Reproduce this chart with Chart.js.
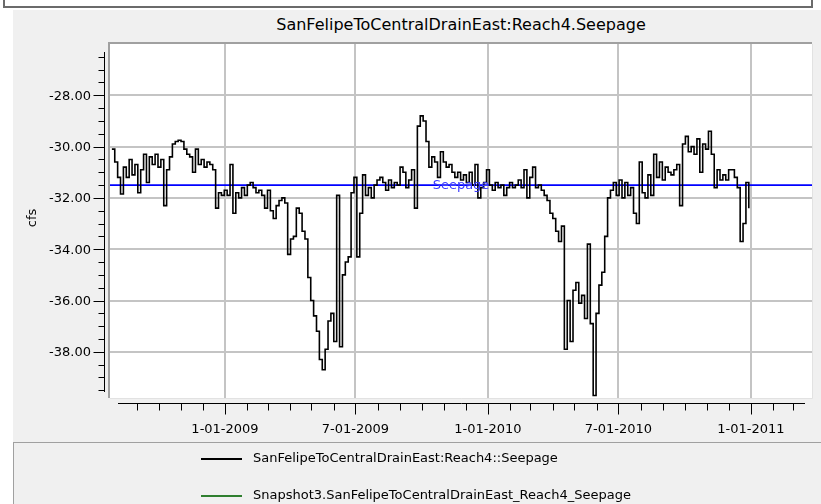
<!DOCTYPE html>
<html>
<head>
<meta charset="utf-8">
<title>SanFelipeToCentralDrainEast:Reach4.Seepage</title>
<script src="https://cdn.jsdelivr.net/npm/chart.js@4.4.1/dist/chart.umd.min.js"></script>
<style>
  html, body { margin: 0; padding: 0; background: #fff; }
  body { width: 821px; height: 504px; position: relative; overflow: hidden; font-family: "DejaVu Sans", sans-serif; }
  #frame { position: absolute; left: 3px; top: -10px; width: 806px; height: 14px; border: 2px solid #6b6b6b; background: #fff; }
  #panel { position: absolute; left: 13px; top: 10px; right: 0; bottom: 0; background: #f0f0f0; }
  #title { position: absolute; left: 110px; width: 702px; top: 15px; text-align: center; font-size: 16px; line-height: 20px; color: #000; }
  #chart { position: absolute; left: 0; top: 0; }
  #legend { position: absolute; left: 13px; top: 442px; width: 808px; height: 62px; border-top: 1px solid #a0a0a0; border-left: 1px solid #a0a0a0; }
  .item { position: absolute; left: 187px; height: 16px; font-size: 13px; line-height: 16px; white-space: nowrap; color: #000; }
  .swatch { display: inline-block; width: 41px; height: 0; border-top: 2px solid; vertical-align: middle; margin-right: 11px; }
</style>
</head>
<body>
<div id="frame"></div>
<div id="panel"></div>
<div id="title">SanFelipeToCentralDrainEast:Reach4.Seepage</div>
<canvas id="chart" width="821" height="504"></canvas>
<div id="legend"></div>
<script>
// series labels
const seriesLabels = [
  'SanFelipeToCentralDrainEast:Reach4::Seepage',
  'Snapshot3.SanFelipeToCentralDrainEast_Reach4_Seepage'
];
const seriesColors = ['#000000', '#2f7f2f'];

// reach seepage (cfs), one reading every 4 days starting 2008-07-28
const seriesStart = '2008-07-28';
const stepDays = 4;
const seepageValues = [
  -30.1, -30.6, -31.2, -31.85, -30.8, -31.2, -30.5, -31.1, -30.7, -31.8, -30.9,
  -30.3, -31.4, -30.4, -30.7, -30.3, -30.8, -30.5, -32.3, -30.9,
  -30.4, -29.9, -29.8, -29.75, -29.8, -30.1,
  -30.3, -30.4, -31.0, -30.1, -30.7, -30.5, -30.8, -30.6, -30.7, -30.9,
  -32.4, -31.8, -31.9, -31.7, -31.9, -30.7, -32.6, -31.8, -32.0, -31.6, -31.9, -31.5, -31.4, -31.6, -31.8, -31.7, -31.9, -32.4,
  -31.7, -32.5, -32.8, -32.3, -32.1, -32.0, -32.2, -34.2, -33.6, -33.5, -32.4, -32.6, -33.3, -33.6,
  -35.1, -36.0, -36.6, -37.2, -38.3, -38.7, -37.9, -36.8,
  -36.5, -37.6, -31.9, -37.8, -35.0, -34.5, -34.3, -31.8, -31.2, -34.3,
  -32.6, -31.1, -31.9, -31.6, -32.0, -31.5, -31.3, -31.2, -31.4, -31.7, -31.3, -31.6, -31.4, -31.5, -30.8, -31.0, -31.6, -31.3, -30.9, -32.4,
  -29.2, -28.8, -29.0, -29.8, -30.8,
  -30.4, -30.6, -31.2, -30.2, -30.6, -30.8, -30.7, -31.0, -31.2, -31.0, -31.3, -31.1, -31.4, -31.0, -31.5, -30.7, -32.0,
  -31.6, -31.4, -30.9, -31.5, -31.7, -31.4, -31.6, -31.5, -31.9, -31.6, -31.4, -31.6, -31.5, -31.3, -31.6, -30.9, -32.0, -31.2, -30.8, -31.6, -31.5, -31.7, -31.9, -32.1, -32.6, -32.8,
  -33.3, -33.7, -33.1, -37.9, -36.0, -37.6, -35.6, -35.3, -36.1, -35.8, -36.7, -33.8, -36.9, -39.7, -36.5, -35.4, -34.9, -33.5, -32.0, -31.7,
  -31.4, -31.9, -31.3, -32.0, -31.4, -31.9, -31.6, -32.6, -33.0, -30.6, -31.8, -32.0, -31.1, -31.9, -30.3, -31.2, -30.6, -31.3, -30.8, -31.0, -31.1, -30.9, -30.7, -32.3,
  -29.9, -29.6, -30.2, -30.0, -30.3, -29.7, -31.0, -29.9, -30.1, -29.4, -30.3, -31.6, -30.9, -31.3, -31.1, -31.3, -30.9, -30.9, -31.2, -31.6, -33.7, -33.0, -31.4, -32.4
];
// snapshot series has nothing to show in this window
const snapshotValues = [];

// horizontal "Seepage" marker line
const markerLabel = 'Seepage';
const markerValue = -31.5;

// axes
const xMajorDates = ['2009-01-01', '2009-07-01', '2010-01-01', '2010-07-01', '2011-01-01'];
const xMajorLabels = ['1-01-2009', '7-01-2009', '1-01-2010', '7-01-2010', '1-01-2011'];
const yMajorTicks = [-28, -30, -32, -34, -36, -38];
const yLabel = 'cfs';

const DAY = 86400000;
const t0 = Date.parse(seriesStart);
const xMin = Date.parse('2009-01-01') - 159.6 * DAY;
const xMax = Date.parse('2009-01-01') + 814.7 * DAY;

const seepagePoints = seepageValues.map((v, i) => ({ x: t0 + i * stepDays * DAY, y: v }));

const FONT = '13px "DejaVu Sans", sans-serif';

const axisRulers = {
  id: 'axisRulers',
  beforeDatasetsDraw(chart) {
    const { ctx, chartArea: a, scales: { x, y } } = chart;
    ctx.save();
    ctx.fillStyle = '#ffffff';
    ctx.fillRect(a.left, a.top, a.right - a.left, a.bottom - a.top);
    ctx.strokeStyle = '#c4c4c4';
    ctx.lineWidth = 2;
    ctx.beginPath();
    yMajorTicks.forEach(v => {
      const py = Math.round(y.getPixelForValue(v));
      ctx.moveTo(a.left, py); ctx.lineTo(a.right, py);
    });
    xMajorDates.forEach(d => {
      const px = Math.round(x.getPixelForValue(Date.parse(d)));
      ctx.moveTo(px, a.top); ctx.lineTo(px, a.bottom);
    });
    ctx.stroke();
    ctx.restore();
  },
  afterDatasetsDraw(chart) {
    const { ctx, chartArea: a, scales: { y } } = chart;
    ctx.save();
    // plot frame
    ctx.strokeStyle = '#a0a0a0';
    ctx.lineWidth = 2;
    ctx.beginPath();
    ctx.moveTo(a.left - 1, a.bottom); ctx.lineTo(a.left - 1, a.top - 1); ctx.lineTo(a.right, a.top - 1);
    ctx.stroke();
    ctx.strokeStyle = '#e2e2e2';
    ctx.lineWidth = 1;
    ctx.beginPath();
    ctx.moveTo(a.right + 0.5, a.top); ctx.lineTo(a.right + 0.5, a.bottom + 0.5); ctx.lineTo(a.left, a.bottom + 0.5);
    ctx.stroke();
    // marker label
    ctx.fillStyle = '#3a3aff';
    ctx.font = FONT;
    ctx.textAlign = 'center';
    ctx.textBaseline = 'middle';
    ctx.fillText(markerLabel, (a.left + a.right) / 2, y.getPixelForValue(markerValue) + 1);
    ctx.restore();
  },
  afterDraw(chart) {
    const { ctx, chartArea: a, scales: { x, y } } = chart;
    ctx.save();
    ctx.strokeStyle = '#000';
    ctx.fillStyle = '#000';
    ctx.lineWidth = 1;
    ctx.font = FONT;

    // y ruler
    const rx = a.left - 5.5;
    ctx.beginPath();
    ctx.moveTo(rx, Math.round(y.getPixelForValue(-26.3)));
    ctx.lineTo(rx, Math.round(y.getPixelForValue(-39.55)));
    for (let v = -26.5; v >= -39.5; v -= 0.5) {
      const py = Math.round(y.getPixelForValue(v)) + 0.5;
      const len = (v % 2 === 0) ? 11 : 6;
      ctx.moveTo(rx, py); ctx.lineTo(rx - len, py);
    }
    ctx.stroke();
    ctx.textAlign = 'right';
    ctx.textBaseline = 'middle';
    yMajorTicks.forEach(v => ctx.fillText(v.toFixed(2), a.left - 19, y.getPixelForValue(v) + 1));

    // x ruler with monthly ticks
    const ry = a.bottom + 5.5;
    const x0 = a.left + 8, x1 = a.right - 7;
    ctx.beginPath();
    ctx.moveTo(x0, ry); ctx.lineTo(x1, ry);
    const d = new Date(xMin);
    let m = new Date(Date.UTC(d.getUTCFullYear(), d.getUTCMonth() + 1, 1));
    while (m.getTime() < xMax) {
      const px = Math.round(x.getPixelForValue(m.getTime())) + 0.5;
      if (px > x0 && px < x1) {
        const major = m.getUTCMonth() % 6 === 0;
        ctx.moveTo(px, ry); ctx.lineTo(px, ry + (major ? 11 : 7));
      }
      m = new Date(Date.UTC(m.getUTCFullYear(), m.getUTCMonth() + 1, 1));
    }
    ctx.stroke();
    ctx.textAlign = 'center';
    xMajorDates.forEach((dt, i) => ctx.fillText(xMajorLabels[i], x.getPixelForValue(Date.parse(dt)), a.bottom + 32));

    // y title
    ctx.translate(33, 218);
    ctx.rotate(-Math.PI / 2);
    ctx.fillText(yLabel, 0, 0);
    ctx.restore();
  }
};

const chart = new Chart(document.getElementById('chart'), {
  type: 'line',
  data: {
    datasets: [
      {
        label: seriesLabels[0],
        data: seepagePoints,
        borderColor: seriesColors[0],
        borderWidth: 1.6,
        pointRadius: 0,
        stepped: true,
        order: 1
      },
      {
        label: seriesLabels[1],
        data: snapshotValues,
        borderColor: seriesColors[1],
        borderWidth: 1.6,
        pointRadius: 0,
        order: 2
      },
      {
        label: markerLabel,
        data: [{ x: xMin, y: markerValue }, { x: xMax, y: markerValue }],
        borderColor: '#0000ff',
        borderWidth: 1.6,
        pointRadius: 0,
        order: 3
      }
    ]
  },
  options: {
    responsive: false,
    animation: false,
    devicePixelRatio: 1,
    layout: { padding: { left: 110, top: 44, right: 9, bottom: 106 } },
    scales: {
      x: { type: 'linear', min: xMin, max: xMax, display: false },
      y: { type: 'linear', min: -39.8, max: -26.0, display: false }
    },
    plugins: {
      legend: { display: false },
      tooltip: { enabled: false }
    }
  },
  plugins: [axisRulers]
});

// legend below the plot, built from the two series
const legendEl = document.getElementById('legend');
[7, 44].forEach((top, i) => {
  const ds = chart.data.datasets[i];
  const item = document.createElement('div');
  item.className = 'item';
  item.style.top = top + 'px';
  item.innerHTML = '<span class="swatch" style="border-color:' + ds.borderColor + '"></span>' + ds.label;
  legendEl.appendChild(item);
});
</script>
</body>
</html>
